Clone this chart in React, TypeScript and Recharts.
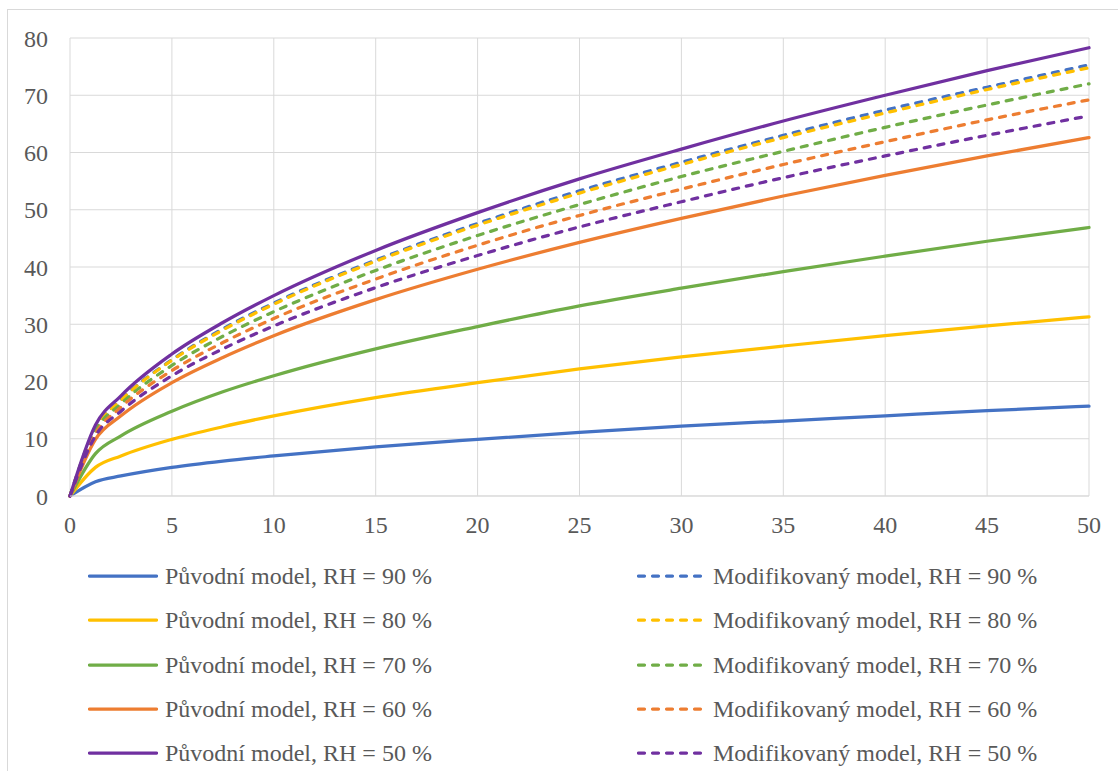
import React from 'react';
import { LineChart, Line, XAxis, YAxis, CartesianGrid, Legend } from 'recharts';

const times = [0, 1.25, 2.5, 5, 7.5, 10, 15, 20, 25, 30, 35, 40, 45, 50];

const orig90 = [0, 2.5, 3.5, 5.0, 6.1, 7.0, 8.6, 9.9, 11.1, 12.2, 13.1, 14.0, 14.9, 15.7];
const orig80 = [0, 5.0, 7.0, 9.9, 12.1, 14.0, 17.2, 19.8, 22.2, 24.3, 26.2, 28.0, 29.7, 31.3];
const orig70 = [0, 7.4, 10.5, 14.8, 18.2, 21.0, 25.7, 29.6, 33.2, 36.3, 39.2, 41.9, 44.5, 46.9];
const orig60 = [0, 9.9, 14.0, 19.8, 24.2, 28.0, 34.3, 39.6, 44.3, 48.5, 52.4, 56.0, 59.4, 62.6];
const orig50 = [0, 12.4, 17.5, 24.8, 30.3, 35.0, 42.9, 49.5, 55.4, 60.6, 65.5, 70.0, 74.3, 78.3];

const mod90 = [0, 11.9, 16.8, 23.8, 29.2, 33.7, 41.2, 47.6, 53.3, 58.3, 63.0, 67.4, 71.4, 75.3];
const mod80 = [0, 11.8, 16.7, 23.7, 29.0, 33.5, 41.0, 47.3, 52.9, 57.9, 62.6, 66.9, 71.0, 74.8];
const mod70 = [0, 11.4, 16.1, 22.8, 27.9, 32.2, 39.4, 45.5, 50.9, 55.8, 60.2, 64.4, 68.3, 72.0];
const mod60 = [0, 10.9, 15.5, 21.9, 26.8, 31.0, 37.9, 43.8, 49.0, 53.6, 57.9, 61.9, 65.7, 69.2];
const mod50 = [0, 10.5, 14.8, 21.0, 25.7, 29.7, 36.4, 42.0, 47.0, 51.4, 55.6, 59.4, 63.0, 66.4];

const xTicks = [0, 5, 10, 15, 20, 25, 30, 35, 40, 45, 50];
const yTicks = [0, 10, 20, 30, 40, 50, 60, 70, 80];

const seriesNames = [
  'Původní model, RH = 90 %',
  'Modifikovaný model, RH = 90 %',
  'Původní model, RH = 80 %',
  'Modifikovaný model, RH = 80 %',
  'Původní model, RH = 70 %',
  'Modifikovaný model, RH = 70 %',
  'Původní model, RH = 60 %',
  'Modifikovaný model, RH = 60 %',
  'Původní model, RH = 50 %',
  'Modifikovaný model, RH = 50 %',
];
const seriesValues = [orig90, mod90, orig80, mod80, orig70, mod70, orig60, mod60, orig50, mod50];
const seriesColors = [
  '#4472C4', '#4472C4',
  '#FFC000', '#FFC000',
  '#70AD47', '#70AD47',
  '#ED7D31', '#ED7D31',
  '#7030A0', '#7030A0',
];
const seriesDashed = [false, true, false, true, false, true, false, true, false, true];

const data = times.map((t, i) => {
  const row: Record<string, number> = { t };
  seriesValues.forEach((vals, s) => {
    row['s' + s] = vals[i];
  });
  return row;
});

const FONT = '"Liberation Serif", "Times New Roman", serif';
const TEXT = '#595959';
const GRID = '#d9d9d9';
const DASH = '6 8';
const LINE_W = 3.25;

const LegendContent = () => {
  const rowCenters = [576, 620.3, 664.6, 708.9, 753.2];
  return (
    <div style={{ position: 'relative', width: 1118, height: 771 }}>
      {seriesNames.map((name, i) => {
        const row = Math.floor(i / 2);
        const col = i % 2;
        const iconLeft = col === 0 ? 88 : 637;
        const textLeft = col === 0 ? 165 : 713;
        const cy = rowCenters[row];
        return (
          <React.Fragment key={name}>
            <svg
              width={70}
              height={6}
              style={{ position: 'absolute', left: iconLeft, top: cy - 3 }}
            >
              <line
                x1={1.5}
                y1={3}
                x2={68.5}
                y2={3}
                stroke={seriesColors[i]}
                strokeWidth={LINE_W}
                strokeLinecap="round"
                strokeDasharray={seriesDashed[i] ? DASH : undefined}
              />
            </svg>
            <div
              style={{
                position: 'absolute',
                left: textLeft,
                top: cy - 15,
                height: 30,
                lineHeight: '30px',
                fontFamily: FONT,
                fontSize: 24,
                color: TEXT,
                whiteSpace: 'nowrap',
              }}
            >
              {name}
            </div>
          </React.Fragment>
        );
      })}
    </div>
  );
};

export default function App() {
  return (
    <div
      style={{
        position: 'absolute',
        left: 0,
        top: 0,
        width: 1118,
        height: 771,
        overflow: 'hidden',
        background: '#ffffff',
      }}
    >
      <div
        style={{
          position: 'absolute',
          left: 7,
          top: 9,
          width: 1300,
          height: 900,
          border: `1px solid ${GRID}`,
          boxSizing: 'border-box',
        }}
      />
      <div style={{ position: 'absolute', left: 0, top: 0 }}>
        <LineChart
          width={1118}
          height={771}
          data={data}
          margin={{ top: 38, right: 29, bottom: 235, left: 0 }}
        >
          <CartesianGrid stroke={GRID} strokeWidth={1} />
          <XAxis
            dataKey="t"
            type="number"
            domain={[0, 50]}
            ticks={xTicks}
            interval={0}
            height={40}
            axisLine={{ stroke: GRID, strokeWidth: 1 }}
            tickLine={false}
            tickSize={0}
            tickMargin={20}
            tick={{ fill: TEXT, fontSize: 24, fontFamily: FONT }}
          />
          <YAxis
            type="number"
            domain={[0, 80]}
            ticks={yTicks}
            interval={0}
            width={70}
            axisLine={false}
            tickLine={false}
            tickSize={0}
            tickMargin={22}
            tick={{ fill: TEXT, fontSize: 24, fontFamily: FONT }}
          />
          {seriesNames.map((name, i) => (
            <Line
              key={name}
              dataKey={'s' + i}
              name={name}
              type="monotone"
              stroke={seriesColors[i]}
              strokeWidth={LINE_W}
              strokeLinecap="round"
              strokeDasharray={seriesDashed[i] ? DASH : undefined}
              dot={false}
              activeDot={false}
              isAnimationActive={false}
            />
          ))}
          <Legend
            layout="horizontal"
            verticalAlign="middle"
            align="center"
            wrapperStyle={{ position: 'absolute', top: 0, left: 0, width: 1118, height: 771, pointerEvents: 'none' }}
            content={<LegendContent />}
          />
        </LineChart>
      </div>
    </div>
  );
}
